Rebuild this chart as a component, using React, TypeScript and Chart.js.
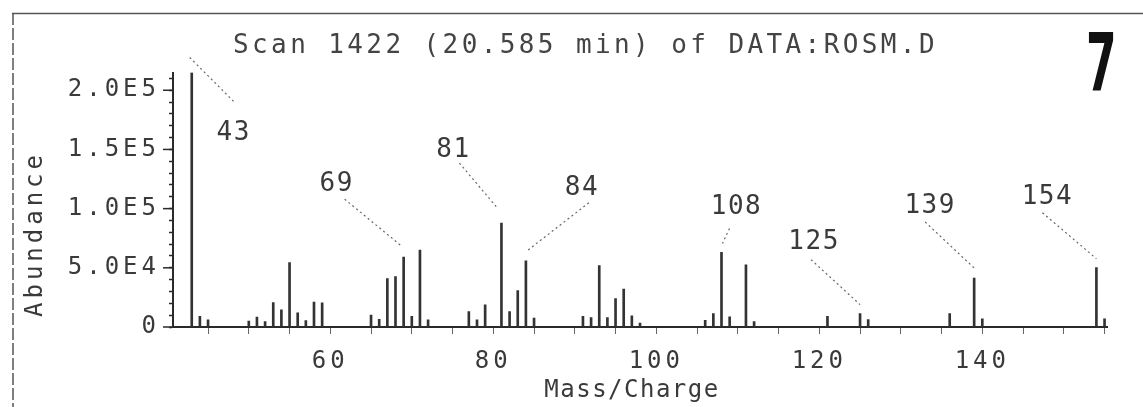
import React, { useEffect, useRef } from 'react';
import { Chart, registerables } from 'chart.js';

Chart.register(...registerables);

// ---- data ----
const masses = [43, 44, 45, 50, 51, 52, 53, 54, 55, 56, 57, 58, 59, 65, 66, 67, 68, 69, 70, 71, 72, 77, 78, 79, 81, 82, 83, 84, 85, 91, 92, 93, 94, 95, 96, 97, 98, 106, 107, 108, 109, 111, 112, 121, 125, 126, 136, 139, 140, 154, 155];
const abundances = [215000, 9000, 6000, 5000, 8400, 4500, 20700, 14500, 54500, 12000, 5500, 21000, 20500, 10000, 6500, 41000, 42500, 59000, 9000, 65000, 6000, 13000, 6000, 18800, 87800, 13000, 30700, 56000, 7600, 9000, 8000, 51800, 8000, 24000, 32000, 9500, 3400, 5600, 11300, 63000, 8500, 52600, 4500, 9000, 11300, 6200, 11300, 41400, 6800, 50100, 7000];
const labeledPeaks = [43, 69, 81, 84, 108, 125, 139, 154];
const xTickLabels = [60, 80, 100, 120, 140];
const xMinorTicks = [45, 50, 55, 60, 65, 70, 75, 80, 85, 90, 95, 100, 105, 110, 115, 120, 125, 130, 135, 140, 145, 150, 155];
const yTickLabels = [0, 50000, 100000, 150000, 200000];
const yMinorTicks = [0, 10000, 20000, 30000, 40000, 50000, 60000, 70000, 80000, 90000, 100000, 110000, 120000, 130000, 140000, 150000, 160000, 170000, 180000, 190000, 200000, 210000];
const titleText = 'Scan 1422 (20.585 min) of DATA:ROSM.D';
const xAxisTitle = 'Mass/Charge';
const yAxisTitle = 'Abundance';
const panelNumber = '7';

// ---- styles: offsets of peak labels / leader lines relative to the peak top ----
// [labelDx, labelBaselineDy, leaderStartDx, leaderStartDy, leaderEndDx, leaderEndDy]
const labelLayout = [
  [41, 67, -2, -15, 44, 31],
  [-68, -66, -59, -58, -2, -11],
  [-49, -66, -42, -60, -4, -15],
  [55, -66, 63, -58, 0, -9],
  [14, -38, 8, -24, 1, -9],
  [-47, -65, -49, -54, 0, -9],
  [-45, -65, -49, -56, 0, -10],
  [-50, -64, -54, -55, 0, -9],
];

const MONO = '"DejaVu Sans Mono", monospace';
const INK = '#3a3a3a';

function fmtY(v: number): string {
  if (v === 0) return '0';
  return v.toExponential(1).toUpperCase().replace('+', '');
}

function spacedText(ctx: CanvasRenderingContext2D, text: string, x: number, y: number, font: string, spacing: number, align: CanvasTextAlign, color: string) {
  ctx.save();
  ctx.font = font;
  (ctx as any).letterSpacing = spacing + 'px';
  ctx.textAlign = align;
  ctx.textBaseline = 'alphabetic';
  ctx.fillStyle = color;
  ctx.fillText(text, x, y);
  ctx.restore();
}

export default function App() {
  const ref = useRef<HTMLCanvasElement>(null);

  useEffect(() => {
    const canvas = ref.current;
    if (!canvas) return;

    const annotate = {
      id: 'annotate',
      beforeDraw(chart: any) {
        (chart.ctx as any).letterSpacing = '4px';
      },
      afterDraw(chart: any) {
        const ctx: CanvasRenderingContext2D = chart.ctx;
        (ctx as any).letterSpacing = '0px';
        const xs = chart.scales.x;
        const ys = chart.scales.y;
        ctx.save();

        // frame
        ctx.strokeStyle = '#555';
        ctx.lineWidth = 1.5;
        ctx.beginPath();
        ctx.moveTo(12, 13.5);
        ctx.lineTo(1143, 13.5);
        ctx.stroke();
        ctx.setLineDash([12, 3]);
        ctx.beginPath();
        ctx.moveTo(13, 13);
        ctx.lineTo(13, 407);
        ctx.stroke();
        ctx.setLineDash([]);

        // major y ticks
        ctx.strokeStyle = '#2a2a2a';
        ctx.lineWidth = 1.5;
        yTickLabels.forEach((v) => {
          const py = ys.getPixelForValue(v);
          ctx.beginPath();
          ctx.moveTo(chart.chartArea.left - 10, py);
          ctx.lineTo(chart.chartArea.left, py);
          ctx.stroke();
        });

        // title
        spacedText(ctx, titleText, 233, 53, `26px ${MONO}`, 3.4, 'left', '#444');

        // panel number
        ctx.save();
        ctx.translate(1086, 90);
        ctx.scale(0.55, 1);
        ctx.font = 'bold 80px "DejaVu Sans", sans-serif';
        ctx.fillStyle = '#111';
        ctx.textBaseline = 'alphabetic';
        ctx.fillText(panelNumber, 0, 0);
        ctx.restore();

        // axis titles
        spacedText(ctx, xAxisTitle, 632, 397, `24px ${MONO}`, 1.5, 'center', INK);
        ctx.save();
        ctx.translate(42, 234);
        ctx.rotate(-Math.PI / 2);
        spacedText(ctx, yAxisTitle, 0, 0, `24px ${MONO}`, 4, 'center', INK);
        ctx.restore();

        // peak labels + leader lines
        labeledPeaks.forEach((m, i) => {
          const idx = masses.indexOf(m);
          const px = xs.getPixelForValue(m);
          const py = ys.getPixelForValue(abundances[idx]);
          const [lx, ly, sx, sy, ex, ey] = labelLayout[i];
          ctx.save();
          ctx.strokeStyle = '#666';
          ctx.lineWidth = 1.2;
          ctx.setLineDash([2, 3]);
          ctx.beginPath();
          ctx.moveTo(px + sx, py + sy);
          ctx.lineTo(px + ex, py + ey);
          ctx.stroke();
          ctx.restore();
          spacedText(ctx, String(m), px + lx + 1, py + ly, `26px ${MONO}`, 1.5, 'center', INK);
        });

        ctx.restore();
      },
    };

    const chart = new Chart(canvas, {
      type: 'bar',
      data: {
        datasets: [
          {
            data: masses.map((m, i) => ({ x: m, y: abundances[i] })),
            backgroundColor: '#333',
            borderWidth: 0,
            barThickness: 2,
          } as any,
        ],
      },
      options: {
        responsive: false,
        animation: false,
        layout: { padding: { left: 0, right: 36, top: 72.5, bottom: 0 } },
        plugins: {
          legend: { display: false },
          tooltip: { enabled: false },
          title: { display: false },
        },
        scales: {
          x: {
            type: 'linear',
            min: 40.7,
            max: 155.3,
            offset: false,
            afterBuildTicks: (s: any) => {
              s.ticks = xMinorTicks.map((v) => ({ value: v }));
            },
            afterFit: (s: any) => {
              s.height = 80;
            },
            grid: { offset: false, drawOnChartArea: false, drawTicks: true, tickLength: 7, tickColor: '#666', tickWidth: 1 },
            border: { display: true, color: '#2a2a2a', width: 2 },
            ticks: {
              autoSkip: false,
              maxRotation: 0,
              minRotation: 0,
              padding: 13,
              color: INK,
              font: { family: MONO, size: 24 },
              callback: (v: any) => (xTickLabels.includes(Number(v)) ? String(v) : ''),
            },
          } as any,
          y: {
            type: 'linear',
            min: 0,
            max: 215000,
            afterBuildTicks: (s: any) => {
              s.ticks = yMinorTicks.map((v) => ({ value: v }));
            },
            afterFit: (s: any) => {
              s.width = 173;
            },
            grid: { drawOnChartArea: false, drawTicks: true, tickLength: 4, tickColor: '#2a2a2a', tickWidth: 1.5 },
            border: { display: true, color: '#2a2a2a', width: 2 },
            ticks: {
              autoSkip: false,
              padding: 9,
              color: INK,
              font: { family: MONO, size: 24 },
              callback: (v: any) => (yTickLabels.includes(Number(v)) ? fmtY(Number(v)) : ''),
            },
          } as any,
        },
      },
      plugins: [annotate],
    });

    return () => chart.destroy();
  }, []);

  return (
    <div style={{ position: 'absolute', left: 0, top: 0, width: 1143, height: 407, background: '#fff' }}>
      <canvas ref={ref} width={1143} height={407} style={{ display: 'block' }} />
    </div>
  );
}
